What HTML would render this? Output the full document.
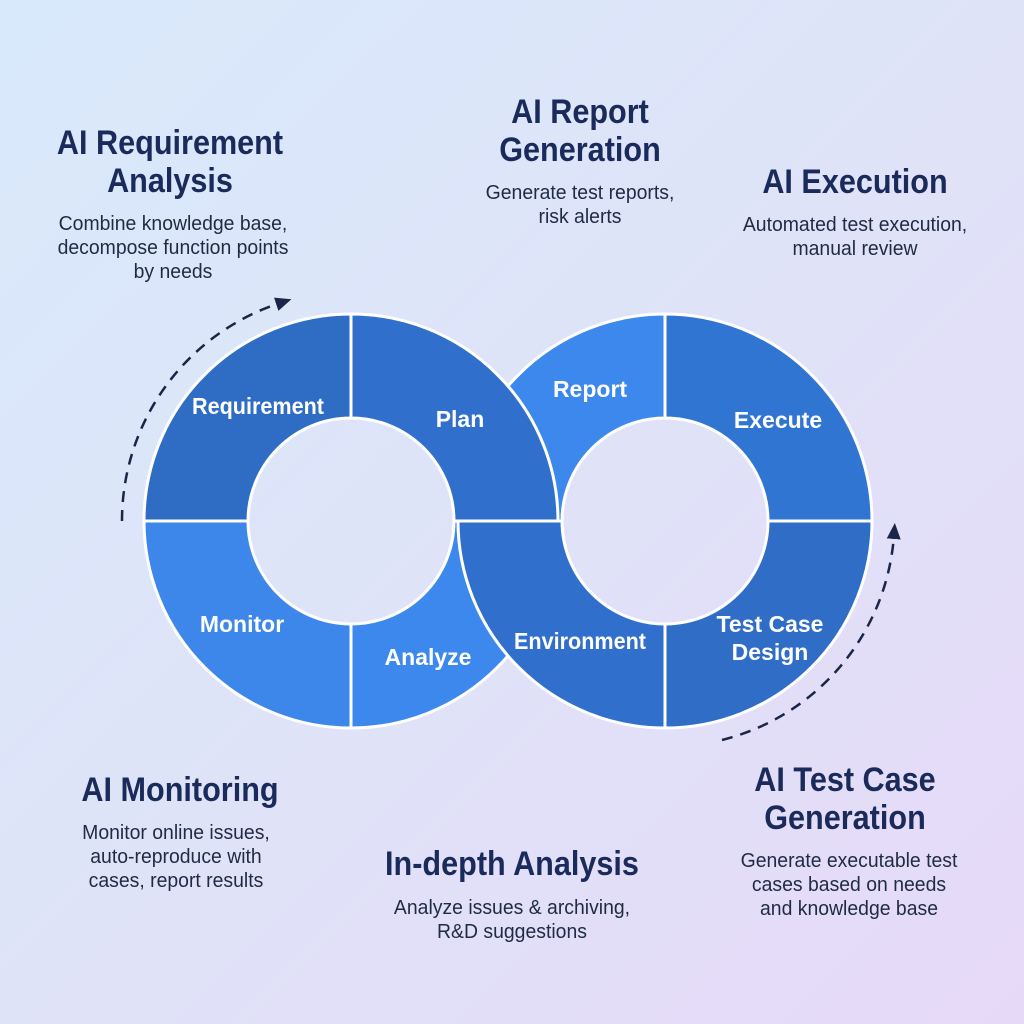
<!DOCTYPE html>
<html><head><meta charset="utf-8"><style>
html,body{margin:0;padding:0}
body{width:1024px;height:1024px;overflow:hidden;background:linear-gradient(135deg,#d8e9fb 0%,#dfe3f8 50%,#e6d9f8 100%);position:relative;font-family:"Liberation Sans",sans-serif}
.t{position:absolute;text-align:center;color:#1a2a5a;font-weight:bold;font-size:34px;line-height:38px;transform:translateX(-50%) scaleX(0.9);white-space:nowrap}
.d{position:absolute;text-align:center;color:#1f2a44;font-size:20px;line-height:24px;transform:translateX(-50%) scaleX(0.97);white-space:nowrap;font-family:"Liberation Sans",sans-serif}
svg{position:absolute;left:0;top:0}
</style></head><body>
<svg width="1024" height="1024" viewBox="0 0 1024 1024">
<defs>
<marker id="ah2" markerWidth="18" markerHeight="18" refX="4" refY="9" orient="auto" markerUnits="userSpaceOnUse"><path d="M0,2 L16,9 L0,16 Z" fill="#1a2547"/></marker>
</defs>
<g stroke="#fff" stroke-width="3" stroke-linejoin="round">
<path d="M458,521 A207,207 0 0 1 665,314 L665,418 A103,103 0 0 0 562,521 Z" fill="#3d88ec"/>
<path d="M558,521 A207,207 0 0 1 351,728 L351,624 A103,103 0 0 0 454,521 Z" fill="#3d88ec"/>
<path d="M144,521 A207,207 0 0 1 351,314 L351,418 A103,103 0 0 0 248,521 Z" fill="#2f6cc4"/>
<path d="M351,314 A207,207 0 0 1 558,521 L454,521 A103,103 0 0 0 351,418 Z" fill="#3070cc"/>
<path d="M351,728 A207,207 0 0 1 144,521 L248,521 A103,103 0 0 0 351,624 Z" fill="#3d87ea"/>
<path d="M665,314 A207,207 0 0 1 872,521 L768,521 A103,103 0 0 0 665,418 Z" fill="#3175d3"/>
<path d="M872,521 A207,207 0 0 1 665,728 L665,624 A103,103 0 0 0 768,521 Z" fill="#2f6dc6"/>
<path d="M665,728 A207,207 0 0 1 458,521 L562,521 A103,103 0 0 0 665,624 Z" fill="#3070cc"/>
</g>
<g fill="none" stroke="#1a2547" stroke-width="2.5" stroke-dasharray="11 8">
<path d="M122,521 A229,229 0 0 1 280,303" marker-end="url(#ah2)"/>
<path d="M722,740 A228,228 0 0 0 894,535" marker-end="url(#ah2)"/>
</g>
<g fill="#fff" font-family="Liberation Sans, sans-serif" font-weight="bold" font-size="23" text-anchor="middle">
<text x="258" y="414" textLength="132" lengthAdjust="spacingAndGlyphs">Requirement</text>
<text x="460" y="427">Plan</text>
<text x="590" y="397">Report</text>
<text x="778" y="428">Execute</text>
<text x="242" y="632">Monitor</text>
<text x="428" y="665">Analyze</text>
<text x="580" y="649" textLength="132" lengthAdjust="spacingAndGlyphs">Environment</text>
<text x="770" y="632">Test Case</text>
<text x="770" y="660">Design</text>
</g>
</svg>
<div class="t" style="left:170px;top:124px">AI Requirement<br>Analysis</div>
<div class="d" style="left:173px;top:212px">Combine knowledge base,<br>decompose function points<br>by needs</div>
<div class="t" style="left:580px;top:93px">AI Report<br>Generation</div>
<div class="d" style="left:580px;top:181px">Generate test reports,<br>risk alerts</div>
<div class="t" style="left:855px;top:163px">AI Execution</div>
<div class="d" style="left:855px;top:213px">Automated test execution,<br>manual review</div>
<div class="t" style="left:180px;top:771px">AI Monitoring</div>
<div class="d" style="left:176px;top:821px">Monitor online issues,<br>auto-reproduce with<br>cases, report results</div>
<div class="t" style="left:512px;top:845px">In-depth Analysis</div>
<div class="d" style="left:512px;top:896px">Analyze issues &amp; archiving,<br>R&amp;D suggestions</div>
<div class="t" style="left:845px;top:761px">AI Test Case<br>Generation</div>
<div class="d" style="left:849px;top:849px">Generate executable test<br>cases based on needs<br>and knowledge base</div>
</body></html>
